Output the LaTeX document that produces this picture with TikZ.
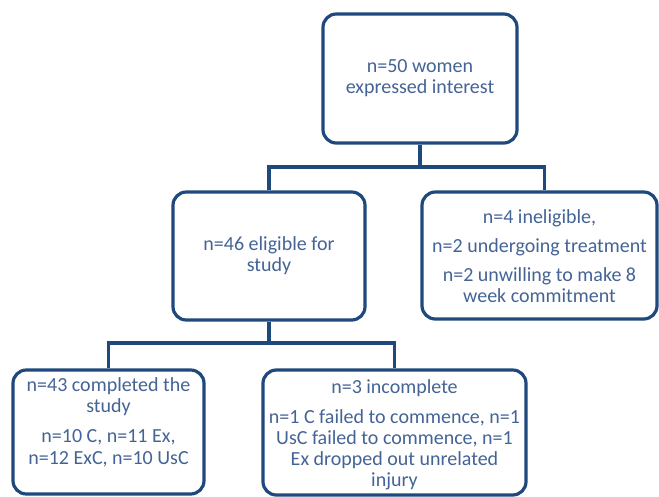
\documentclass[tikz,border=0pt]{standalone}
\usepackage{fontspec}
\setmainfont{Carlito}
\definecolor{boxline}{RGB}{31,73,125}
\definecolor{boxtext}{RGB}{68,100,150}
\begin{document}
\begin{tikzpicture}[x=0.75pt,y=-0.75pt,
  box/.style={draw=boxline, line width=2.4pt, rounded corners=10pt, fill=white},
  txt/.style={text=boxtext, align=center, font=\fontsize{15}{15.9}\selectfont, inner sep=0pt},
  conn/.style={draw=boxline, line width=2.4pt}]
\useasboundingbox (0,0) rectangle (659,496);
% boxes
\node[box, minimum width=194*0.75pt, minimum height=129*0.75pt] (top) at (420,78.5) {};
\node[box, minimum width=192*0.75pt, minimum height=128*0.75pt] (elig) at (269,256) {};
\node[box, minimum width=235*0.75pt, minimum height=127*0.75pt] (inel) at (539.5,255.5) {};
\node[box, minimum width=191*0.75pt, minimum height=124*0.75pt] (comp) at (108.5,432) {};
\node[box, minimum width=263*0.75pt, minimum height=125*0.75pt] (incomp) at (394.5,432.5) {};
% texts
\node[txt] (ttop) at (420,78) {n=50 women\\expressed interest};
\node[txt] (telig) at (269,256) {n=46 eligible for\\study};
\node[txt] (tinel) at (539.5,256) {n=4 ineligible,\\[6pt]n=2 undergoing treatment\\[6pt]n=2 unwilling to make 8\\week commitment};
\node[txt] (tcomp) at (108.5,422) {n=43 completed the\\study\\[7pt]n=10 C, n=11 Ex,\\n=12 ExC, n=10 UsC};
\node[txt] (tincomp) at (394.5,435) {n=3 incomplete\\[6pt]n=1 C failed to commence, n=1\\UsC failed to commence, n=1\\Ex dropped out unrelated\\injury};
% connectors
\coordinate (j1) at (420,167);
\coordinate (j2) at (269,343);
\draw[conn] (top.south) -- (j1) -| (elig.north);
\draw[conn] (j1) -| ([xshift=4pt]inel.north);
\draw[conn] (elig.south) -- (j2) -| (comp.north);
\draw[conn] (j2) -| (incomp.north);
\end{tikzpicture}
\end{document}
